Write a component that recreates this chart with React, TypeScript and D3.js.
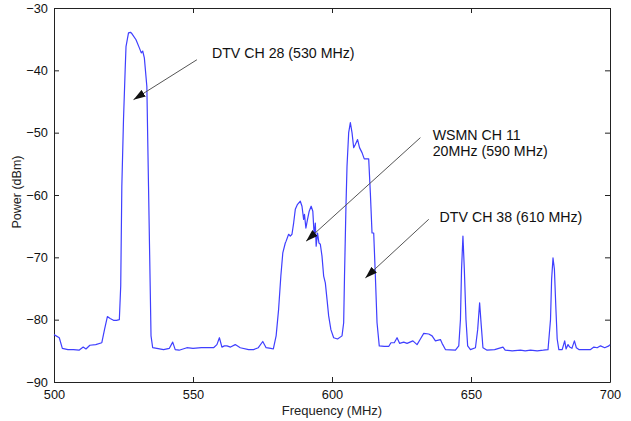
import React, { useRef, useEffect } from 'react';
import * as d3 from 'd3';

const freqs = [
  500, 501.9, 503, 505, 507, 509, 510.5, 511.5, 512.9, 515, 517.2, 518.2, 519.2, 520.2, 521.4, 522.5, 523.5,
  524.0, 524.4, 525.0, 525.6, 525.9, 526.8, 527.5, 528.0, 529.5, 530.7, 531.4, 531.9, 532.5, 533.4, 534.0,
  534.6, 534.9, 535.5, 537, 539.4, 541.5, 542.7, 543.6, 545, 547.8, 550, 553, 557.4, 558.6, 559.5, 560.4,
  561.3, 562.2, 563.5, 565.2, 567, 570, 571.8, 573.5, 575.1, 576.3, 578.0, 578.9, 579.9, 580.8, 581.6,
  582.3, 583.2, 583.5, 584.4, 585.0, 585.6, 586.2, 586.8, 587.6, 588.6, 589.2, 589.8, 590.1, 590.6, 591.2,
  591.8, 592.5, 593.1, 593.6, 594.0, 594.3, 594.8, 595.3, 595.8, 596.4, 597.0, 597.6, 598.2, 598.8, 599.6,
  600.6, 602.0, 603.6, 604.2, 604.5, 605.0, 605.4, 606.0, 606.6, 607.2, 607.8, 608.4, 609.2, 609.9, 610.8,
  611.6, 613.2, 613.8, 614.4, 615.0, 615.6, 616.2, 617.0, 618.8, 620.4, 621.2, 622.4, 623.4, 624.3, 625.8,
  627.0, 629.1, 630.6, 631.8, 633.0, 634.8, 636.0, 637.2, 639.0, 639.6, 640.8, 644.4, 645.6, 646.2, 646.6,
  647.1, 647.6, 648.2, 648.8, 649.8, 651.6, 652.4, 653.1, 653.7, 654.3, 655.8, 658.5, 661.5, 662.3, 664.8,
  667.8, 669.5, 671.4, 673.8, 676, 677.7, 678.6, 679.0, 679.5, 680.0, 680.5, 681.0, 681.6, 682.8, 683.7,
  684.2, 684.9, 685.5, 686.3, 687.2, 687.9, 688.8, 693.0, 694.2, 695.4, 696.6, 698.1, 699.6, 700,
];

const power = [
  -82.4, -82.9, -84.6, -84.8, -84.8, -84.9, -84.4, -84.7, -84.1, -84.0, -83.7, -81.5, -79.5, -79.8, -80.1, -80.1, -80.0,
  -74.6, -58.6, -47.9, -39.9, -36.2, -34.0, -33.9, -34.1, -35.1, -36.4, -37.2, -36.9, -38.0, -42.6, -58.6,
  -74.6, -82.6, -84.5, -84.6, -84.8, -84.6, -83.6, -84.8, -84.9, -84.5, -84.6, -84.5, -84.5, -84.0, -82.9, -84.4,
  -84.2, -84.2, -84.4, -84.0, -84.5, -84.8, -84.8, -84.5, -83.5, -84.5, -84.6, -84.7, -82.6, -78.3, -73.0,
  -69.3, -67.7, -67.4, -66.3, -66.6, -66.3, -64.5, -62.3, -61.5, -61.0, -61.8, -63.9, -63.1, -65.3, -63.9,
  -62.6, -61.8, -62.6, -66.6, -64.5, -68.2, -66.1, -67.7, -67.9, -69.8, -73.0, -74.1, -76.7, -79.4, -81.6,
  -82.9, -83.1, -82.6, -80.5, -73.0, -62.3, -55.4, -50.0, -48.4, -50.0, -52.4, -51.9, -51.1, -52.4, -53.2,
  -54.2, -54.2, -59.7, -66.1, -66.1, -73.0, -80.5, -84.2, -84.3, -84.3, -83.7, -83.7, -82.9, -83.8, -83.6,
  -83.8, -83.4, -84.0, -83.1, -82.2, -82.3, -82.6, -83.4, -83.2, -83.8, -84.8, -84.9, -84.2, -80.0, -71.9,
  -66.6, -71.9, -80.0, -84.2, -84.8, -84.5, -81.6, -77.3, -81.0, -84.5, -84.9, -84.8, -84.4, -84.9, -85.0,
  -84.9, -85.0, -84.9, -85.0, -84.9, -84.8, -80.0, -73.5, -70.1, -71.9, -77.8, -83.1, -84.8, -84.8, -83.4,
  -84.7, -84.0, -84.4, -84.6, -83.4, -84.5, -84.8, -84.8, -84.4, -84.5, -84.2, -84.5, -84.2, -84.0,
];

const xTicks = [500, 550, 600, 650, 700];
const yTicks = [-90, -80, -70, -60, -50, -40, -30];

// annotation labels: text anchor point and arrow (from -> to) in data units
const labels = [
  { lines: ['DTV CH 28 (530 MHz)'], tx: 556.8, ty: -38.1, fx: 551.4, fy: -38.3, px: 528.6, py: -44.7 },
  { lines: ['WSMN CH 11', '20MHz (590 MHz)'], tx: 636.2, ty: -51.1, fx: 631.8, fy: -50.8, px: 590.7, py: -67.4 },
  { lines: ['DTV CH 38 (610 MHz)'], tx: 638.7, ty: -64.4, fx: 634.8, fy: -63.9, px: 612.0, py: -73.3 },
];

const W = 631;
const H = 421;
const margin = { top: 8, right: 21, bottom: 39, left: 54 };
const font = '"Liberation Sans", Arial, sans-serif';

export default function App() {
  const ref = useRef<SVGSVGElement>(null);

  useEffect(() => {
    const svg = d3.select(ref.current);
    svg.selectAll('*').remove();

    const x = d3.scaleLinear().domain([500, 700]).range([margin.left, W - margin.right]);
    const y = d3.scaleLinear().domain([-90, -30]).range([H - margin.bottom, margin.top]);

    const axisStyle = (g: any) => {
      g.select('.domain').attr('stroke', '#222');
      g.selectAll('.tick line').attr('stroke', '#222');
      g.selectAll('.tick text').attr('fill', '#111').style('font-family', font).style('font-size', '12.8px');
    };

    svg.append('g')
      .attr('transform', `translate(0,${H - margin.bottom})`)
      .call(d3.axisBottom(x).tickValues(xTicks).tickSize(-5).tickSizeOuter(0).tickPadding(8))
      .call(axisStyle);
    svg.append('g')
      .attr('transform', `translate(0,${margin.top})`)
      .call(d3.axisTop(x).tickValues(xTicks).tickSize(-5).tickSizeOuter(0).tickFormat(() => ''))
      .call(axisStyle);
    svg.append('g')
      .attr('transform', `translate(${margin.left},0)`)
      .call(d3.axisLeft(y).tickValues(yTicks).tickSize(-5).tickSizeOuter(0).tickPadding(6))
      .call(axisStyle);
    svg.append('g')
      .attr('transform', `translate(${W - margin.right},0)`)
      .call(d3.axisRight(y).tickValues(yTicks).tickSize(-5).tickSizeOuter(0).tickFormat(() => ''))
      .call(axisStyle);

    const line = d3.line<number>()
      .x((d, i) => x(freqs[i]))
      .y((d) => y(d));

    svg.append('path')
      .datum(power)
      .attr('fill', 'none')
      .attr('stroke', '#3f3fff')
      .attr('stroke-width', 1.2)
      .attr('stroke-linejoin', 'round')
      .attr('d', line);

    const defs = svg.append('defs');
    defs.append('marker')
      .attr('id', 'arrow')
      .attr('viewBox', '0 0 12 8')
      .attr('refX', 12)
      .attr('refY', 4)
      .attr('markerWidth', 12)
      .attr('markerHeight', 8)
      .attr('markerUnits', 'userSpaceOnUse')
      .attr('orient', 'auto')
      .append('path')
      .attr('d', 'M0,0 L12,4 L0,8 Z')
      .attr('fill', '#111');

    labels.forEach((l) => {
      svg.append('line')
        .attr('x1', x(l.fx))
        .attr('y1', y(l.fy))
        .attr('x2', x(l.px))
        .attr('y2', y(l.py))
        .attr('stroke', '#555')
        .attr('stroke-width', 1)
        .attr('marker-end', 'url(#arrow)');
      const t = svg.append('text')
        .attr('x', x(l.tx))
        .attr('y', y(l.ty))
        .attr('fill', '#111')
        .style('font-family', font)
        .style('font-size', '14.2px');
      l.lines.forEach((s, i) => {
        t.append('tspan').attr('x', x(l.tx)).attr('dy', i === 0 ? 0 : 16).text(s);
      });
    });

    svg.append('text')
      .attr('x', (margin.left + W - margin.right) / 2)
      .attr('y', 415)
      .attr('text-anchor', 'middle')
      .attr('fill', '#222')
      .style('font-family', font)
      .style('font-size', '13px')
      .text('Frequency (MHz)');

    svg.append('text')
      .attr('transform', `translate(21,192) rotate(-90)`)
      .attr('text-anchor', 'middle')
      .attr('fill', '#222')
      .style('font-family', font)
      .style('font-size', '12.5px')
      .text('Power (dBm)');
  }, []);

  return (
    <svg
      ref={ref}
      width={W}
      height={H}
      style={{ position: 'absolute', left: 0, top: 0, background: '#fff' }}
    />
  );
}
